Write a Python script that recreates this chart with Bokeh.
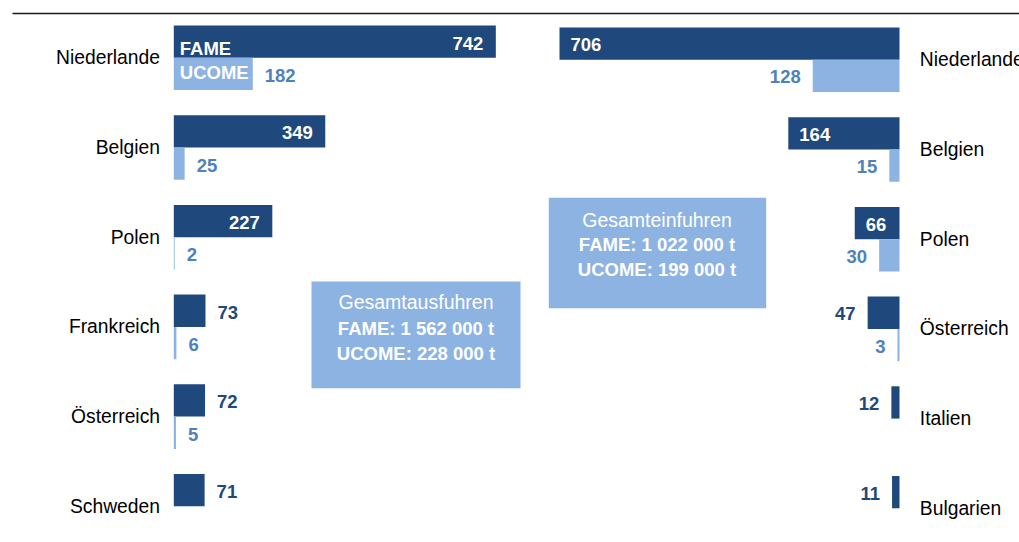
from bokeh.plotting import figure
from bokeh.models import Range1d, ColumnDataSource
from bokeh.core.properties import value
from bokeh.embed import file_html
from bokeh.resources import INLINE

# ---------------- data (1000 t) ----------------
export_countries = ["Niederlande", "Belgien", "Polen", "Frankreich", "Österreich", "Schweden"]
export_fame = [742, 349, 227, 73, 72, 71]
export_ucome = [182, 25, 2, 6, 5, None]

import_countries = ["Niederlande", "Belgien", "Polen", "Österreich", "Italien", "Bulgarien"]
import_fame = [706, 164, 66, 47, 12, 11]
import_ucome = [128, 15, 30, 3, None, None]

export_total_fame = 1562000
export_total_ucome = 228000
import_total_fame = 1022000
import_total_ucome = 199000

series_names = ["FAME", "UCOME"]
export_box_title = "Gesamtausfuhren"
import_box_title = "Gesamteinfuhren"

# ---------------- layout / style ----------------
W, H = 1019, 540
OFF = 0                     # observed page offset of the canvas
SL = 0.434                  # px per unit, left panel
SR = 0.678                  # px per unit, right panel
L0 = 173.3                  # page x of left zero
R0 = 899.0                  # page x of right zero
PITCH = 89.7
LY0 = 57.3                  # page y of first boundary (left)
RY0 = 59.3                  # (right)
BAR_PX = 32.3
BH = BAR_PX / PITCH
R_CAP = (R0 - 559.0) / SR   # broken-bar display cap on the right

NAVY = "#1F497D"
LIGHT = "#8DB3E2"
MID = "#4F81BD"
FONT = value("Liberation Sans")
FS = "18.5px"
FS_CAT = "19.3px"


def Lx(px):
    return (px - L0) / SL


def Rx(px):
    return (R0 - px) / SR


def Ly(py):
    return (py - LY0) / PITCH


def Ry(py):
    return (py - RY0) / PITCH


p = figure(width=W, height=H, output_backend="svg", toolbar_location=None,
           x_axis_location=None, y_axis_location=None, min_border=0,
           x_range=Range1d(Lx(OFF), Lx(OFF + W)),
           y_range=Range1d(Ly(OFF + H), Ly(OFF)))
p.extra_x_ranges = {"r": Range1d(Rx(OFF), Rx(OFF + W))}
p.extra_y_ranges = {"r": Range1d(Ry(OFF + H), Ry(OFF))}
p.grid.visible = False
p.outline_line_color = None

# top rule
p.segment(x0=[Lx(12)], x1=[Lx(OFF + W + 5)], y0=[Ly(13)], y1=[Ly(13)],
          line_color="#1a1a1a", line_width=1.6)

# ---------------- left panel (exports) ----------------
ly = list(range(len(export_countries)))
p.quad(left=0, right=export_fame, top=[y - BH for y in ly], bottom=ly,
       fill_color=NAVY, line_color=None)
uc_y = [y for y, v in zip(ly, export_ucome) if v is not None]
uc_v = [v for v in export_ucome if v is not None]
p.quad(left=0, right=uc_v, top=uc_y, bottom=[y + BH for y in uc_y],
       fill_color=LIGHT, line_color=None)

p.text(x=Lx(159.5), y=ly, text=export_countries, text_font=FONT, text_font_size=FS_CAT,
       text_color="#000000", text_align="right", text_baseline="middle")

def labels(xs, ys, vals, color, align, xoff, yoff, xr="default", yr="default"):
    if not xs:
        return
    src = ColumnDataSource(dict(x=xs, y=ys, t=[str(v) for v in vals]))
    p.text(x="x", y="y", text="t", source=src, text_font=FONT, text_font_size=FS,
           text_font_style="bold", text_color=color, text_align=align,
           text_baseline="middle", x_offset=xoff, y_offset=yoff,
           x_range_name=xr, y_range_name=yr)

# FAME values left
ins = [(v, y) for v, y in zip(export_fame, ly) if v * SL > 40]
outs = [(v, y) for v, y in zip(export_fame, ly) if v * SL <= 40]
labels([v for v, _ in ins], [y - BH / 2 for _, y in ins], [v for v, _ in ins], "white", "right", -12.5, 1.5)
labels([v for v, _ in outs], [y - BH / 2 for _, y in outs], [v for v, _ in outs], NAVY, "left", 12, 1.5)
labels(uc_v, [y + BH / 2 for y in uc_y], uc_v, MID, "left", 12, 1.5)

# series names inside the first bars
p.text(x=[0], y=[Ly(47.5)], text=[series_names[0]], text_font=FONT, text_font_size=FS,
       text_font_style="bold", text_color="white", text_align="left",
       text_baseline="middle", x_offset=6)
p.text(x=[0], y=[Ly(72)], text=[series_names[1]], text_font=FONT, text_font_size=FS,
       text_font_style="bold", text_color="white", text_align="left",
       text_baseline="middle", x_offset=6)

# ---------------- right panel (imports) ----------------
ry = list(range(len(import_countries)))
disp = [min(v, R_CAP) for v in import_fame]
p.quad(left=disp, right=0, top=[y - BH for y in ry], bottom=ry,
       fill_color=NAVY, line_color=None, x_range_name="r", y_range_name="r")
ruc_y = [y for y, v in zip(ry, import_ucome) if v is not None]
ruc_v = [v for v in import_ucome if v is not None]
p.quad(left=ruc_v, right=0, top=ruc_y, bottom=[y + BH for y in ruc_y],
       fill_color=LIGHT, line_color=None, x_range_name="r", y_range_name="r")

p.text(x=Rx(919.3), y=ry, text=import_countries, text_font=FONT, text_font_size=FS_CAT,
       text_color="#000000", text_align="left", text_baseline="middle",
       x_range_name="r", y_range_name="r")

rins = [(d, v, y) for d, v, y in zip(disp, import_fame, ry) if d * SR > 40]
routs = [(d, v, y) for d, v, y in zip(disp, import_fame, ry) if d * SR <= 40]
labels([d for d, _, _ in rins], [y - BH / 2 for _, _, y in rins], [v for _, v, _ in rins],
       "white", "left", 11, 1, "r", "r")
labels([d for d, _, _ in routs], [y - BH / 2 for _, _, y in routs], [v for _, v, _ in routs],
       NAVY, "right", -12, 1, "r", "r")
labels(ruc_v, [y + BH / 2 for y in ruc_y], ruc_v, MID, "right", -12, 1, "r", "r")

# ---------------- total boxes ----------------
def fmt(n):
    return f"{n:,}".replace(",", " ") + " t"

def box(x0, x1, y0, y1, cx, ty, title, fame, ucome, xr, yr):
    p.quad(left=[x0], right=[x1], top=[y0], bottom=[y1], fill_color=LIGHT,
           line_color=None, x_range_name=xr, y_range_name=yr)
    p.text(x=[cx], y=[ty[0]], text=[title], text_font=FONT, text_font_size="19.5px",
           text_color="white", text_align="center", text_baseline="middle",
           x_range_name=xr, y_range_name=yr)
    p.text(x=[cx, cx], y=[ty[1], ty[2]],
           text=[f"{series_names[0]}: {fmt(fame)}", f"{series_names[1]}: {fmt(ucome)}"],
           text_font=FONT, text_font_size=FS, text_font_style="bold",
           text_color="white", text_align="center", text_baseline="middle",
           x_range_name=xr, y_range_name=yr)

box(Lx(311), Lx(520), Ly(281), Ly(387.7), Lx(415.5),
    [Ly(301.7), Ly(327.7), Ly(353.3)], export_box_title,
    export_total_fame, export_total_ucome, "default", "default")
box(Rx(548.3), Rx(765.7), Ry(197.3), Ry(307.7), Rx(656.5),
    [Ry(219), Ry(244.3), Ry(269.3)], import_box_title,
    import_total_fame, import_total_ucome, "r", "r")

open("out.html", "w").write(file_html(p, INLINE))
